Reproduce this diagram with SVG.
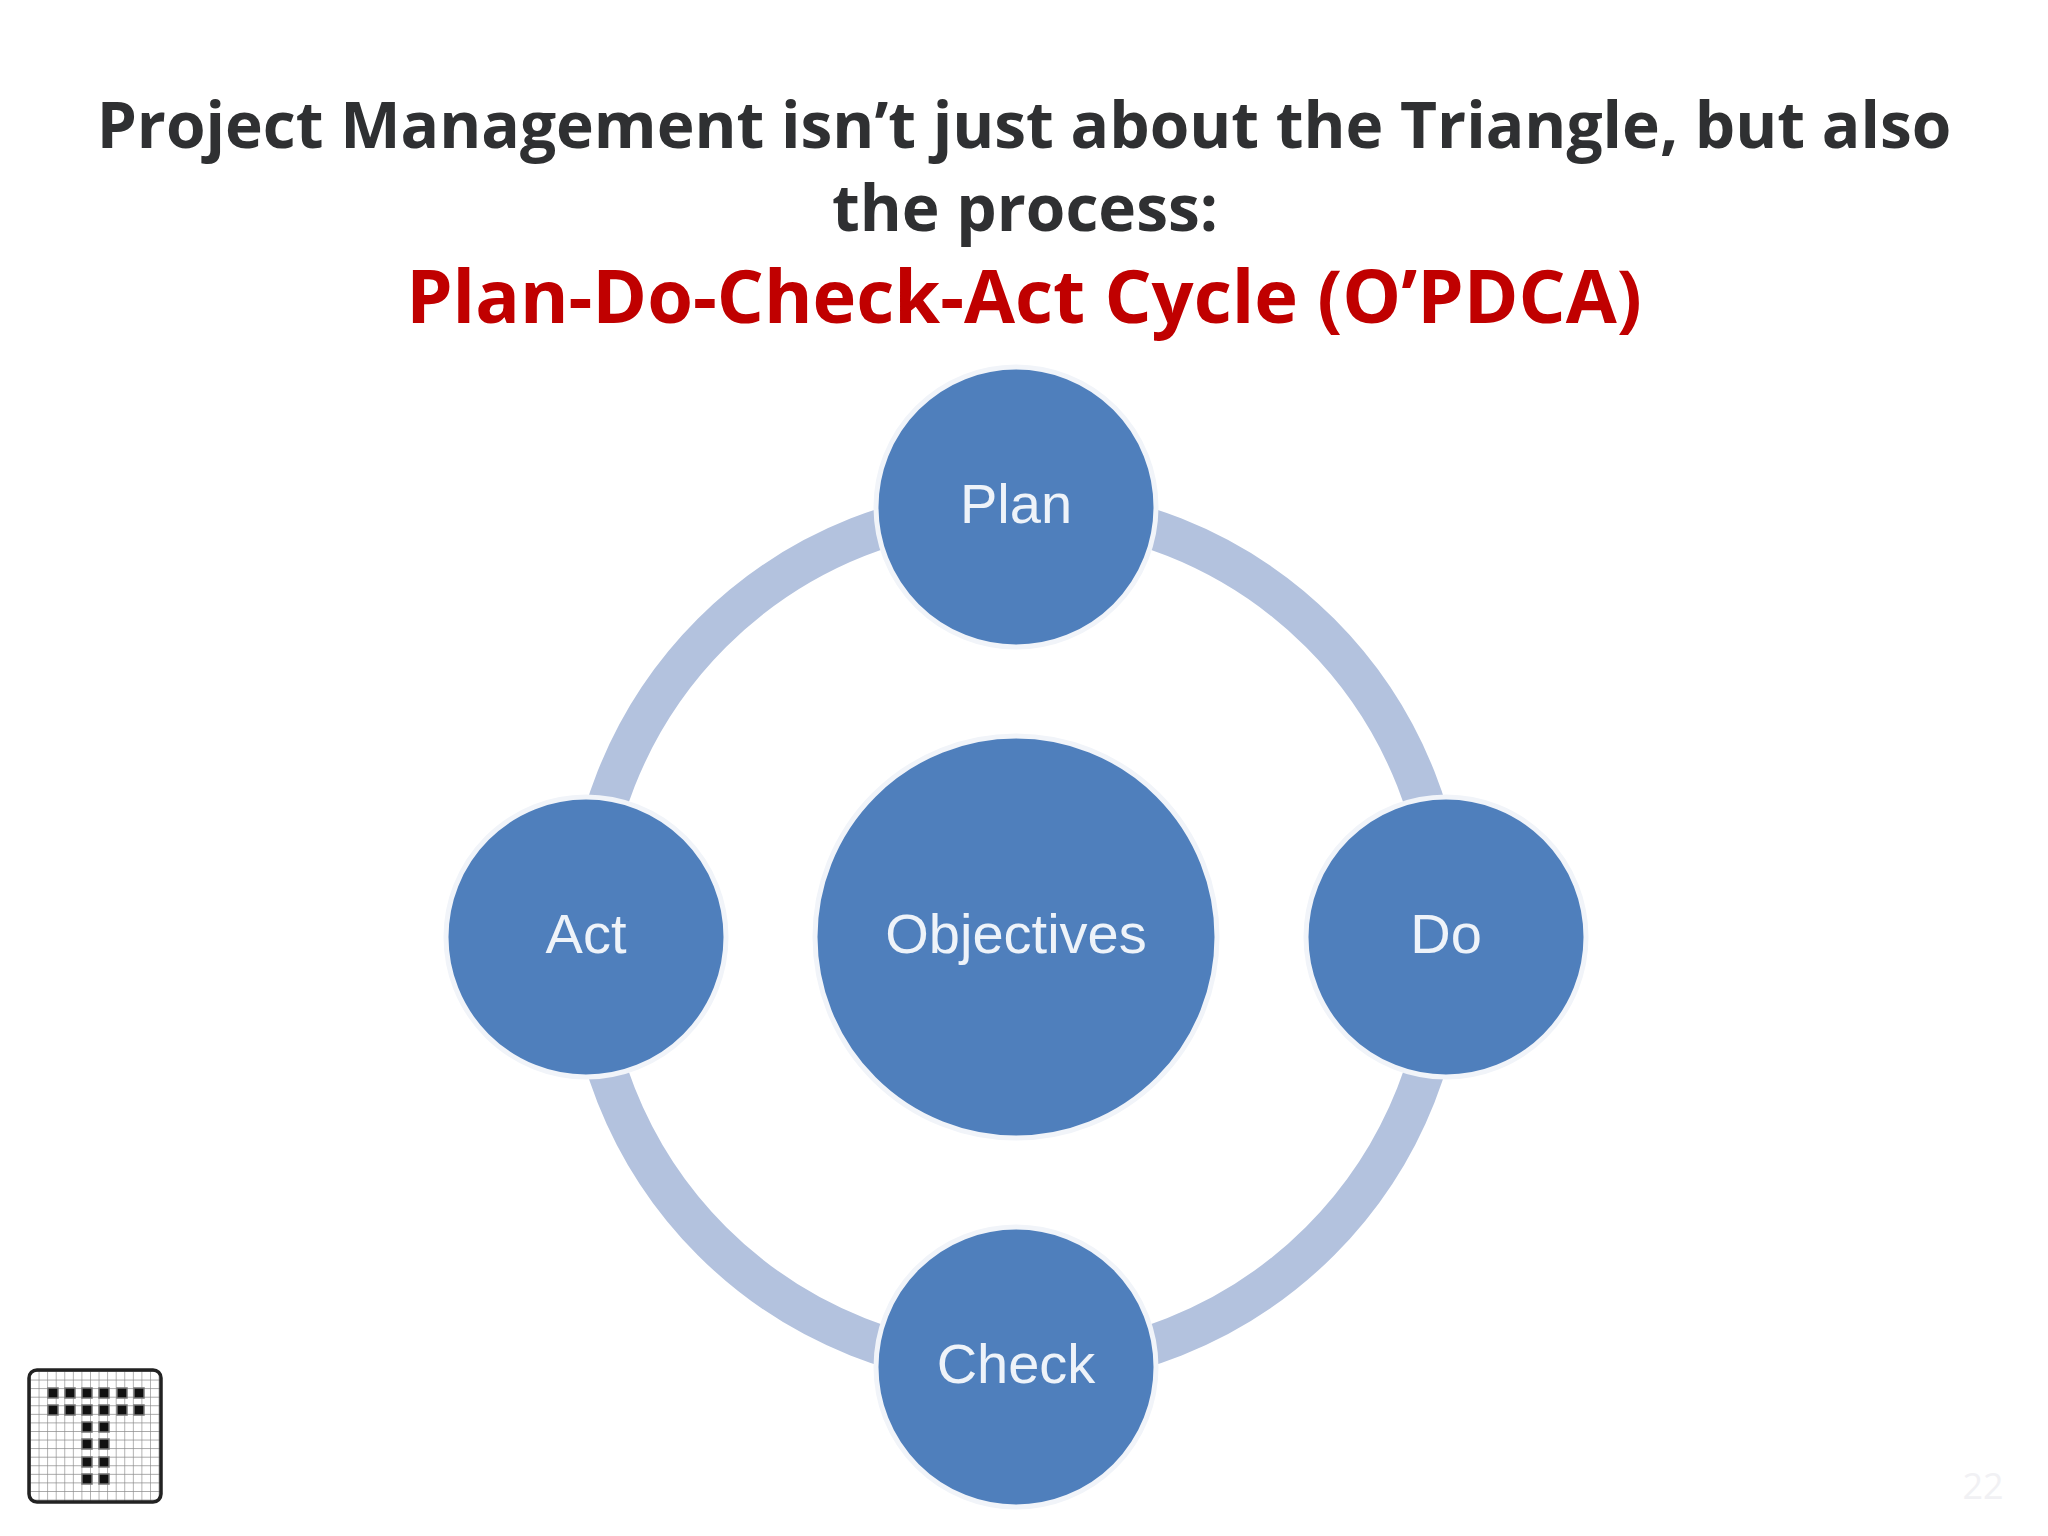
<svg xmlns="http://www.w3.org/2000/svg" width="2048" height="1536" viewBox="0 0 2048 1536">
<style>
.t{font-family:"Open Sans","Noto Sans",sans-serif;font-weight:700;text-anchor:middle}
.n{fill:#4f7fbc;stroke:#f1f4f9;stroke-width:5}
.l{font-family:"Liberation Sans",Arial,sans-serif;font-size:56px;fill:#eef3f9;text-anchor:middle}
.a{fill:none;stroke:#b3c2de;stroke-width:40}
</style>
<defs>
<pattern id="g" width="8.57" height="8.57" patternUnits="userSpaceOnUse" x="30" y="1371">
<path d="M0 0V8.57M0 0H8.57" stroke="#8a8a8a" stroke-width="1.3" fill="none"/>
</pattern>
<rect id="d" width="10" height="10" fill="#111" stroke="#777" stroke-width="1.5"/>
</defs>
<rect width="2048" height="1536" fill="#fff"/>
<g id="title">
<text class="t" x="1024" y="148" font-size="64" fill="#2f3032">Project Management isn’t just about the Triangle, but also</text>
<text class="t" x="1025" y="231" font-size="64" fill="#2f3032">the process:</text>
<text class="t" x="1024" y="323" font-size="74" fill="#c00000">Plan-Do-Check-Act Cycle (O’PDCA)</text>
</g>
<g id="connectors">
<path class="a" d="M1016 507A430 430 0 0 1 1446 937"/>
<path class="a" d="M1446 937A430 430 0 0 1 1016 1367"/>
<path class="a" d="M1016 1367A430 430 0 0 1 586 937"/>
<path class="a" d="M586 937A430 430 0 0 1 1016 507"/>
</g>
<g id="objectives"><circle class="n" cx="1016" cy="937" r="201"/><text class="l" x="1016" y="953">Objectives</text></g>
<g id="plan"><circle class="n" cx="1016" cy="507" r="140"/><text class="l" x="1016" y="523">Plan</text></g>
<g id="do"><circle class="n" cx="1446" cy="937" r="140"/><text class="l" x="1446" y="953">Do</text></g>
<g id="check"><circle class="n" cx="1016" cy="1367" r="140"/><text class="l" x="1016" y="1383">Check</text></g>
<g id="act"><circle class="n" cx="586" cy="937" r="140"/><text class="l" x="586" y="953">Act</text></g>
<g id="logo">
<rect x="29" y="1370" width="132" height="132" rx="8" fill="#fff"/>
<rect x="29" y="1370" width="132" height="132" rx="8" fill="url(#g)"/>
<rect x="29" y="1370" width="132" height="132" rx="8" fill="none" stroke="#222" stroke-width="3.5"/>
<use href="#d" x="48" y="1388"/><use href="#d" x="65" y="1388"/><use href="#d" x="82" y="1388"/><use href="#d" x="99" y="1388"/><use href="#d" x="117" y="1388"/><use href="#d" x="134" y="1388"/>
<use href="#d" x="48" y="1405"/><use href="#d" x="65" y="1405"/><use href="#d" x="82" y="1405"/><use href="#d" x="99" y="1405"/><use href="#d" x="117" y="1405"/><use href="#d" x="134" y="1405"/>
<use href="#d" x="82" y="1422"/><use href="#d" x="99" y="1422"/>
<use href="#d" x="82" y="1439"/><use href="#d" x="99" y="1439"/>
<use href="#d" x="82" y="1457"/><use href="#d" x="99" y="1457"/>
<use href="#d" x="82" y="1474"/><use href="#d" x="99" y="1474"/>
</g>
<text id="page" x="1983" y="1499" font-family="'Open Sans',sans-serif" font-size="36" fill="#f1f1f4" text-anchor="middle">22</text>
</svg>
